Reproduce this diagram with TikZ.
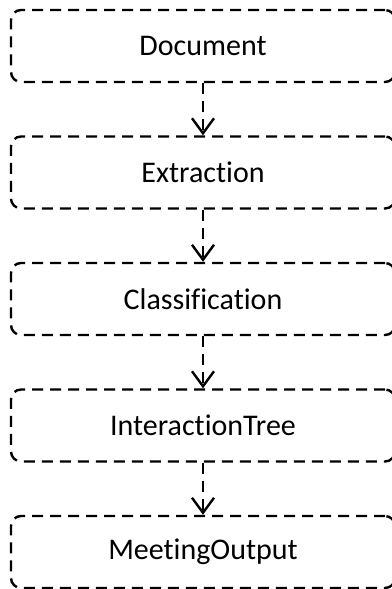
\documentclass[tikz,border=0pt]{standalone}
\usepackage{fontspec}
\setmainfont{Carlito}[Ligatures=NoCommon]
\usetikzlibrary{arrows.meta}
\tikzset{
  stage/.style={draw, dash pattern=on 11pt off 7pt, line width=2.4pt, rounded corners=10pt,
    minimum width=384pt, minimum height=72pt, inner sep=0pt, font=\fontsize{30}{36}\selectfont},
  flow/.style={-{Straight Barb[length=15pt,width=22pt]}, line width=2.4pt, dash pattern=on 11pt off 7pt}
}
\begin{document}
\begin{tikzpicture}[x=1pt,y=1pt]
      \useasboundingbox (0,0) rectangle (391,-589);

      \foreach \i/\key/\txt in {0/doc/Document, 1/ext/Extraction, 2/cls/Classification, 3/tree/InteractionTree, 4/out/MeetingOutput} {
        \node[stage] (\key) at (203, {-46-126.5*\i}) {\txt};
      }

      \foreach \a/\b in {doc/ext, ext/cls, cls/tree, tree/out} {
        \draw[flow] (\a) -- (\b);
      }
    \end{tikzpicture}
\end{document}
